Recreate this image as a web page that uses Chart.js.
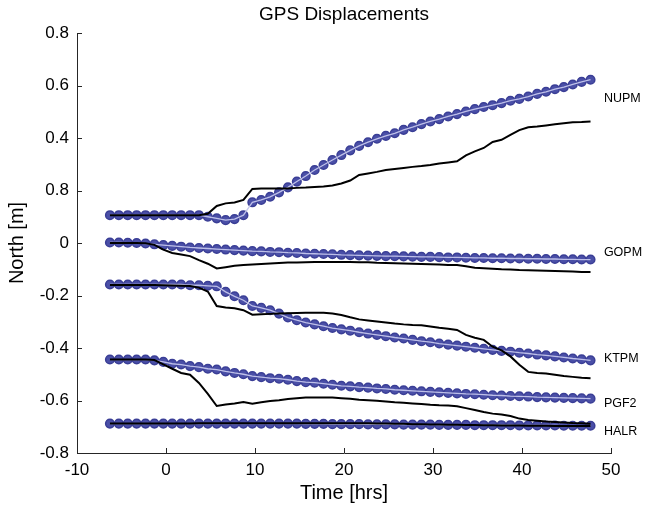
<!DOCTYPE html>
<html>
<head>
<meta charset="utf-8">
<script src="https://cdn.jsdelivr.net/npm/chart.js@4.4.1/dist/chart.umd.min.js"></script>
<style>
  html, body { margin: 0; padding: 0; background: #fff; }
  #wrap { width: 645px; height: 507px; }
</style>
</head>
<body>
<div id="wrap"><canvas id="c"></canvas></div>
<script>
// Tiempo (hrs) de cada muestra
const times = [-6.3,-5.3,-4.3,-3.3,-2.3,-1.3,-0.3,0.7,1.7,2.7,3.7,4.7,5.7,6.7,7.7,8.7,9.7,10.7,11.7,12.7,
  13.7,14.7,15.7,16.7,17.7,18.7,19.7,20.7,21.7,22.7,23.7,24.7,25.7,26.7,27.7,28.7,29.7,30.7,31.7,32.7,
  33.7,34.7,35.7,36.7,37.7,38.7,39.7,40.7,41.7,42.7,43.7,44.7,45.7,46.7,47.7];

// Estaciones: marcadores (azul) y línea (negra), desplazamiento norte [m]
const stations = ['NUPM', 'GOPM', 'KTPM', 'PGF2', 'HALR'];

const nupmMarks = [0.106,0.106,0.106,0.106,0.106,0.106,0.106,0.106,0.106,0.106,0.106,0.100,0.094,0.087,0.091,0.106,
  0.155,0.164,0.176,0.193,0.212,0.234,0.255,0.278,0.297,0.316,0.335,0.353,0.370,0.384,0.397,0.408,0.418,0.431,
  0.441,0.453,0.463,0.472,0.482,0.491,0.501,0.510,0.518,0.525,0.533,0.542,0.549,0.558,0.568,0.576,0.586,0.594,
  0.604,0.614,0.622];
const nupmLine = [0.106,0.106,0.106,0.106,0.106,0.106,0.106,0.106,0.106,0.106,0.106,0.111,0.141,0.151,0.154,0.164,
  0.206,0.208,0.208,0.208,0.208,0.210,0.211,0.213,0.215,0.219,0.227,0.238,0.259,0.265,0.271,0.278,0.282,0.286,
  0.290,0.293,0.297,0.303,0.307,0.311,0.334,0.349,0.362,0.385,0.393,0.412,0.430,0.441,0.444,0.448,0.452,0.456,
  0.460,0.461,0.463];

const gopmMarks = [0.002,0.002,0.001,0.000,-0.002,-0.005,-0.008,-0.011,-0.014,-0.017,-0.019,-0.021,-0.023,-0.025,
  -0.027,-0.029,-0.031,-0.032,-0.034,-0.035,-0.037,-0.038,-0.040,-0.041,-0.042,-0.043,-0.045,-0.046,-0.047,-0.048,
  -0.049,-0.050,-0.050,-0.051,-0.052,-0.053,-0.053,-0.054,-0.055,-0.055,-0.056,-0.057,-0.057,-0.058,-0.058,-0.059,
  -0.059,-0.060,-0.060,-0.061,-0.061,-0.062,-0.062,-0.063,-0.063];
const gopmLine = [0.000,0.000,0.000,0.000,-0.001,-0.007,-0.025,-0.038,-0.044,-0.050,-0.065,-0.079,-0.097,-0.092,
  -0.087,-0.084,-0.082,-0.080,-0.078,-0.076,-0.074,-0.074,-0.073,-0.072,-0.072,-0.072,-0.072,-0.072,-0.073,-0.073,
  -0.075,-0.076,-0.077,-0.078,-0.079,-0.080,-0.081,-0.082,-0.084,-0.084,-0.089,-0.094,-0.096,-0.098,-0.100,-0.101,
  -0.103,-0.104,-0.105,-0.106,-0.107,-0.108,-0.109,-0.110,-0.110];

const ktpmMarks = [-0.158,-0.158,-0.158,-0.158,-0.158,-0.158,-0.158,-0.158,-0.158,-0.161,-0.161,-0.163,-0.165,
  -0.186,-0.203,-0.218,-0.240,-0.247,-0.256,-0.269,-0.284,-0.294,-0.303,-0.310,-0.317,-0.324,-0.329,-0.334,-0.340,
  -0.345,-0.350,-0.355,-0.360,-0.364,-0.369,-0.374,-0.378,-0.383,-0.387,-0.391,-0.395,-0.399,-0.403,-0.407,-0.411,
  -0.414,-0.418,-0.421,-0.425,-0.428,-0.432,-0.436,-0.440,-0.443,-0.447];
const ktpmLine = [-0.160,-0.160,-0.160,-0.160,-0.160,-0.160,-0.161,-0.162,-0.163,-0.164,-0.170,-0.185,-0.240,
  -0.246,-0.249,-0.256,-0.273,-0.271,-0.270,-0.269,-0.268,-0.267,-0.266,-0.266,-0.266,-0.269,-0.274,-0.283,-0.291,
  -0.295,-0.299,-0.303,-0.307,-0.310,-0.312,-0.313,-0.318,-0.323,-0.327,-0.331,-0.350,-0.361,-0.369,-0.395,-0.409,
  -0.432,-0.464,-0.491,-0.495,-0.497,-0.502,-0.507,-0.510,-0.513,-0.515];

const pgf2Marks = [-0.444,-0.444,-0.444,-0.444,-0.444,-0.447,-0.453,-0.460,-0.463,-0.469,-0.473,-0.479,-0.482,
  -0.489,-0.495,-0.500,-0.507,-0.511,-0.515,-0.517,-0.521,-0.526,-0.530,-0.532,-0.536,-0.540,-0.544,-0.546,-0.549,
  -0.551,-0.554,-0.556,-0.559,-0.561,-0.563,-0.565,-0.567,-0.569,-0.571,-0.573,-0.575,-0.576,-0.578,-0.580,-0.581,
  -0.583,-0.584,-0.585,-0.587,-0.588,-0.589,-0.590,-0.591,-0.592,-0.593];
const pgf2Line = [-0.444,-0.444,-0.444,-0.444,-0.444,-0.446,-0.462,-0.479,-0.495,-0.502,-0.533,-0.575,-0.621,
  -0.615,-0.611,-0.606,-0.612,-0.607,-0.602,-0.599,-0.594,-0.591,-0.589,-0.589,-0.589,-0.589,-0.591,-0.593,-0.597,
  -0.599,-0.601,-0.604,-0.607,-0.609,-0.611,-0.613,-0.616,-0.618,-0.619,-0.622,-0.629,-0.636,-0.644,-0.650,-0.653,
  -0.659,-0.669,-0.674,-0.677,-0.680,-0.682,-0.684,-0.686,-0.687,-0.689];

const halrMarks = [-0.688,-0.688,-0.688,-0.688,-0.688,-0.688,-0.688,-0.688,-0.688,-0.688,-0.688,-0.688,-0.688,
  -0.688,-0.688,-0.688,-0.688,-0.688,-0.688,-0.688,-0.688,-0.688,-0.689,-0.689,-0.689,-0.690,-0.690,-0.690,-0.690,
  -0.691,-0.691,-0.691,-0.691,-0.692,-0.692,-0.692,-0.692,-0.693,-0.693,-0.693,-0.693,-0.694,-0.694,-0.694,-0.694,
  -0.694,-0.695,-0.695,-0.695,-0.695,-0.695,-0.696,-0.696,-0.696,-0.696];
const halrLine = [-0.688,-0.688,-0.688,-0.688,-0.688,-0.688,-0.688,-0.688,-0.688,-0.688,-0.687,-0.687,-0.687,
  -0.687,-0.687,-0.687,-0.687,-0.687,-0.687,-0.687,-0.687,-0.687,-0.687,-0.687,-0.687,-0.687,-0.687,-0.687,-0.687,
  -0.687,-0.688,-0.688,-0.689,-0.689,-0.690,-0.690,-0.691,-0.691,-0.692,-0.692,-0.693,-0.693,-0.694,-0.694,-0.695,
  -0.695,-0.695,-0.696,-0.696,-0.696,-0.697,-0.697,-0.697,-0.697,-0.697];

const marks = [nupmMarks, gopmMarks, ktpmMarks, pgf2Marks, halrMarks];
const lines = [nupmLine, gopmLine, ktpmLine, pgf2Line, halrLine];

// Etiquetas a la derecha de cada serie (posición en unidades de datos)
const labelTime = 49.2;
const labelNorth = [0.552, -0.037, -0.440, -0.610, -0.717];

// Ejes
const xTickValues = [-10, 0, 10, 20, 30, 40, 50];
const yTickValues = [-0.8, -0.6, -0.4, -0.2, 0, 0.2, 0.4, 0.6, 0.8];
const yTickLabels = ['-0.8', '-0.6', '-0.4', '-0.2', '0', '0.8', '0.4', '0.6', '0.8'];

const FONT = '"Liberation Sans", Arial, Helvetica, sans-serif';
const AXIS = '#262626';

const pts = arr => times.map((t, i) => ({ x: t, y: arr[i] }));

const datasets = [];
stations.forEach((name, i) => {
  datasets.push({ label: name + ' modelo', data: pts(lines[i]), borderColor: '#000', borderWidth: 2,
    pointRadius: 0, tension: 0, order: 1 });
  datasets.push({ label: name + ' traza', data: pts(marks[i]), borderColor: 'rgba(196,198,236,0.95)', borderWidth: 1.3,
    pointRadius: 0, tension: 0, order: 2 });
  datasets.push({ label: name, data: pts(marks[i]), showLine: false, pointRadius: 4.3, pointHoverRadius: 4.3,
    pointBackgroundColor: '#4a4fa7', pointBorderColor: '#3a3e96', pointBorderWidth: 1.5, order: 3 });
});

// Título, ticks hacia adentro y nombres de estación
const extras = {
  id: 'extras',
  afterDraw(chart) {
    const { ctx, chartArea: a, scales: { x, y } } = chart;
    ctx.save();
    ctx.strokeStyle = AXIS;
    ctx.lineWidth = 1;
    ctx.beginPath();
    xTickValues.forEach(v => {
      const px = Math.round(x.getPixelForValue(v)) + 0.5;
      ctx.moveTo(px, a.bottom); ctx.lineTo(px, a.bottom - 5);
    });
    yTickValues.forEach(v => {
      const py = Math.round(y.getPixelForValue(v)) + 0.5;
      ctx.moveTo(a.left, py); ctx.lineTo(a.left + 5, py);
    });
    ctx.stroke();

    ctx.fillStyle = '#000';
    ctx.font = '19px ' + FONT;
    ctx.textAlign = 'center';
    ctx.textBaseline = 'middle';
    ctx.fillText('GPS Displacements', (a.left + a.right) / 2, 15);

    ctx.font = '12.5px ' + FONT;
    ctx.textAlign = 'left';
    stations.forEach((name, i) => {
      ctx.fillText(name, x.getPixelForValue(labelTime), y.getPixelForValue(labelNorth[i]));
    });
    ctx.restore();
  }
};

new Chart(document.getElementById('c'), {
  type: 'line',
  data: { datasets },
  plugins: [extras],
  options: {
    responsive: true, maintainAspectRatio: false, animation: false,
    layout: { padding: { top: 33, right: 34, bottom: 0, left: 0 } },
    plugins: { legend: { display: false }, tooltip: { enabled: false }, title: { display: false } },
    scales: {
      x: {
        type: 'linear', min: -10, max: 50,
        afterBuildTicks: s => { s.ticks = xTickValues.map(v => ({ value: v })); },
        afterFit: s => { s.height = 54; },
        grid: { display: false, drawTicks: false },
        border: { display: true, color: AXIS, width: 1 },
        ticks: { color: '#000', font: { family: FONT, size: 17 }, padding: 7, maxRotation: 0 },
        title: { display: true, text: 'Time [hrs]', color: '#000', font: { family: FONT, size: 20 }, padding: { bottom: 2 } }
      },
      y: {
        type: 'linear', min: -0.8, max: 0.8,
        afterBuildTicks: s => { s.ticks = yTickValues.map(v => ({ value: v })); },
        afterFit: s => { s.width = 77; },
        grid: { display: false, drawTicks: false },
        border: { display: true, color: AXIS, width: 1 },
        ticks: { color: '#000', font: { family: FONT, size: 17 }, padding: 8,
          callback: (v, i) => yTickLabels[i] },
        title: { display: true, text: 'North [m]', color: '#000', font: { family: FONT, size: 20 }, padding: { top: 5 } }
      }
    }
  }
});
</script>
</body>
</html>
